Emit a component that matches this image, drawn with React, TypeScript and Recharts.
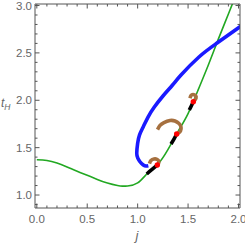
import { ComposedChart, Line, Scatter, XAxis, YAxis } from 'recharts'

// green curve t_H(j)
const greenJ = [0, 0.1, 0.2, 0.3, 0.4, 0.5, 0.6, 0.7, 0.8, 0.85, 0.9, 1.0, 1.1, 1.2, 1.3, 1.4, 1.5, 1.6, 1.7, 1.8, 1.9, 2.0]
const greenT = [1.372, 1.364, 1.337, 1.296, 1.25, 1.208, 1.165, 1.126, 1.1, 1.094, 1.096, 1.128, 1.232, 1.326, 1.48, 1.67, 1.86, 2.11, 2.37, 2.645, 2.91, 3.18]

// blue parametric curve
const blueJ = [2.025, 1.784, 1.608, 1.43, 1.346, 1.251, 1.162, 1.103, 1.056, 1.018, 1.0, 0.991, 1.001, 1.023, 1.056, 1.083, 1.106]
const blueT = [2.784, 2.601, 2.457, 2.267, 2.161, 2.045, 1.923, 1.823, 1.721, 1.633, 1.546, 1.44, 1.391, 1.351, 1.317, 1.306, 1.309]

// brown hooks
const brown1J = [1.117, 1.132, 1.162, 1.192, 1.209, 1.207, 1.195]
const brown1T = [1.332, 1.364, 1.38, 1.377, 1.359, 1.332, 1.317]
const brown2J = [1.197, 1.222, 1.261, 1.321, 1.37, 1.41, 1.43, 1.425, 1.405, 1.387]
const brown2T = [1.691, 1.734, 1.765, 1.786, 1.781, 1.755, 1.718, 1.675, 1.654, 1.644]
const brown3J = [1.519, 1.529, 1.549, 1.574, 1.579, 1.564, 1.552]
const brown3T = [2.021, 2.05, 2.061, 2.05, 2.024, 1.997, 1.985]

// black segments on the green curve
const black1J = [1.09, 1.14, 1.195]
const black1T = [1.222, 1.268, 1.317]
const black2J = [1.331, 1.36, 1.387]
const black2T = [1.538, 1.59, 1.644]
const black3J = [1.512, 1.532, 1.552]
const black3T = [1.897, 1.94, 1.985]

// red points
const redJ = [1.195, 1.387, 1.552]
const redT = [1.317, 1.644, 1.985]

const xTicks = [0, 0.1, 0.2, 0.3, 0.4, 0.5, 0.6, 0.7, 0.8, 0.9, 1, 1.1, 1.2, 1.3, 1.4, 1.5, 1.6, 1.7, 1.8, 1.9, 2]
const yTicks = [0.9, 1, 1.1, 1.2, 1.3, 1.4, 1.5, 1.6, 1.7, 1.8, 1.9, 2, 2.1, 2.2, 2.3, 2.4, 2.5, 2.6, 2.7, 2.8, 2.9, 3]

const zip = (xs: number[], ys: number[]) => xs.map((x, i) => ({ x, y: ys[i] }))

const FRAME = '#555'
const LABEL = '#666'
const FONT = '"Liberation Sans", Arial, sans-serif'

const isMajor = (v: number) => Math.abs(v * 2 - Math.round(v * 2)) < 1e-6

const BottomTick = ({ x, y, payload }: any) => {
  const major = isMajor(payload.value)
  return (
    <g>
      <line x1={x} y1={y} x2={x} y2={y - (major ? 4.5 : 2.5)} stroke={FRAME} />
      {major && (
        <text x={x} y={y + 15} textAnchor="middle" fontSize={11.5} fill={LABEL} fontFamily={FONT}>
          {payload.value.toFixed(1)}
        </text>
      )}
    </g>
  )
}

const TopTick = ({ x, y, payload }: any) => {
  const major = isMajor(payload.value)
  return <line x1={x} y1={y} x2={x} y2={y + (major ? 4.5 : 2.5)} stroke={FRAME} />
}

const LeftTick = ({ x, y, payload }: any) => {
  const major = isMajor(payload.value)
  return (
    <g>
      <line x1={x} y1={y} x2={x + (major ? 4.5 : 2.5)} y2={y} stroke={FRAME} />
      {major && (
        <text x={x - 3} y={y + 4} textAnchor="end" fontSize={11.5} fill={LABEL} fontFamily={FONT}>
          {payload.value.toFixed(1)}
        </text>
      )}
    </g>
  )
}

const RightTick = ({ x, y, payload }: any) => {
  const major = isMajor(payload.value)
  return <line x1={x} y1={y} x2={x - (major ? 4.5 : 2.5)} y2={y} stroke={FRAME} />
}

const Dot = (props: any) => <circle cx={props.cx} cy={props.cy} r={2.7} fill="#ff0000" />

const xDomain = [-0.018, 2.015]
const yDomain = [0.863, 3.016]

export default function App() {
  const lineProps = { dataKey: 'y', type: 'natural' as const, dot: false, activeDot: false, isAnimationActive: false }
  return (
    <div style={{ position: 'absolute', left: 0, top: 0 }}>
      <ComposedChart width={245} height={246} margin={{ top: 0, right: 0, bottom: 0, left: 0 }}>
        <XAxis
          xAxisId="b"
          dataKey="x"
          type="number"
          domain={xDomain}
          ticks={xTicks}
          interval={0}
          allowDataOverflow
          height={38}
          tickSize={0}
          tickMargin={0}
          tickLine={false}
          tick={<BottomTick />}
          axisLine={{ stroke: FRAME }}
          label={() => (
            <text x={137} y={240} textAnchor="middle" fontSize={13} fontStyle="italic" fill={LABEL} fontFamily={FONT}>
              j
            </text>
          )}
        />
        <XAxis
          xAxisId="t"
          orientation="top"
          dataKey="x"
          type="number"
          domain={xDomain}
          ticks={xTicks}
          interval={0}
          allowDataOverflow
          height={4}
          tickSize={0}
          tickMargin={0}
          tickLine={false}
          tick={<TopTick />}
          axisLine={{ stroke: FRAME }}
        />
        <YAxis
          yAxisId="l"
          type="number"
          domain={yDomain}
          ticks={yTicks}
          interval={0}
          allowDataOverflow
          width={35}
          tickSize={0}
          tickMargin={0}
          tickLine={false}
          tick={<LeftTick />}
          axisLine={{ stroke: FRAME }}
          label={() => (
            <text x={1} y={107} fontSize={12} fontStyle="italic" fill={LABEL} fontFamily={FONT}>
              t
              <tspan fontSize={8.5} dy={3}>H</tspan>
            </text>
          )}
        />
        <YAxis
          yAxisId="r"
          orientation="right"
          type="number"
          domain={yDomain}
          ticks={yTicks}
          interval={0}
          allowDataOverflow
          width={5}
          tickSize={0}
          tickMargin={0}
          tickLine={false}
          tick={<RightTick />}
          axisLine={{ stroke: FRAME }}
        />
        <Line xAxisId="b" yAxisId="l" data={zip(greenJ, greenT)} stroke="#22a822" strokeWidth={1.6} {...lineProps} />
        <Line xAxisId="b" yAxisId="l" data={zip(blueJ, blueT)} stroke="#1a1aff" strokeWidth={3.6} {...lineProps} />
        <Line xAxisId="b" yAxisId="l" data={zip(black1J, black1T)} stroke="#000" strokeWidth={3.6} {...lineProps} />
        <Line xAxisId="b" yAxisId="l" data={zip(black2J, black2T)} stroke="#000" strokeWidth={3.6} {...lineProps} />
        <Line xAxisId="b" yAxisId="l" data={zip(black3J, black3T)} stroke="#000" strokeWidth={3.6} {...lineProps} />
        <Line xAxisId="b" yAxisId="l" data={zip(brown1J, brown1T)} stroke="#a6703f" strokeWidth={3.6} {...lineProps} />
        <Line xAxisId="b" yAxisId="l" data={zip(brown2J, brown2T)} stroke="#a6703f" strokeWidth={3.6} {...lineProps} />
        <Line xAxisId="b" yAxisId="l" data={zip(brown3J, brown3T)} stroke="#a6703f" strokeWidth={3.6} {...lineProps} />
        <Scatter xAxisId="b" yAxisId="l" data={zip(redJ, redT)} dataKey="y" shape={<Dot />} isAnimationActive={false} />
      </ComposedChart>
    </div>
  )
}
